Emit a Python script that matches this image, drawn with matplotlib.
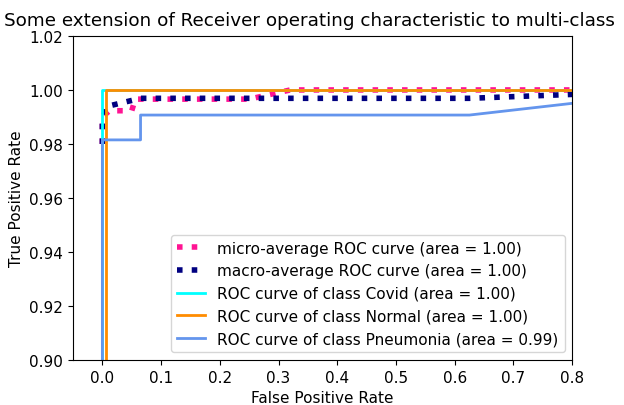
import numpy as np
import matplotlib
matplotlib.use("Agg")
import matplotlib.pyplot as plt

plt.rcParams['font.size'] = 11

# values
micro_fpr = [0.0, 0.0, 0.012, 0.05, 0.056, 0.25, 0.32, 1.0]
micro_tpr = [0.98, 0.990, 0.9923, 0.9923, 0.9966, 0.9966, 1.0, 1.0]

macro_fpr = [0.0, 0.0, 0.006, 0.065, 0.625, 1.0]
macro_tpr = [0.98, 0.9877, 0.9938, 0.9969, 0.9969, 1.0]

covid_fpr = [0.0, 0.0, 1.0]
covid_tpr = [0.0, 1.0, 1.0]

normal_fpr = [0.0, 0.006, 0.006, 1.0]
normal_tpr = [0.0, 0.0, 1.0, 1.0]

pneu_fpr = [0.0, 0.0, 0.065, 0.065, 0.625, 1.0]
pneu_tpr = [0.0, 0.9815, 0.9815, 0.9907, 0.9907, 1.0]

lw = 2
fig = plt.figure(figsize=(6.24, 4.06), dpi=100)
ax = fig.add_axes([0.117, 0.111, 0.8, 0.798])

ax.plot(micro_fpr, micro_tpr, label='micro-average ROC curve (area = 1.00)',
        color='deeppink', linestyle=':', linewidth=4)
ax.plot(macro_fpr, macro_tpr, label='macro-average ROC curve (area = 1.00)',
        color='navy', linestyle=':', linewidth=4)
ax.plot(covid_fpr, covid_tpr, color='aqua', lw=lw,
        label='ROC curve of class Covid (area = 1.00)')
ax.plot(normal_fpr, normal_tpr, color='darkorange', lw=lw,
        label='ROC curve of class Normal (area = 1.00)')
ax.plot(pneu_fpr, pneu_tpr, color='cornflowerblue', lw=lw,
        label='ROC curve of class Pneumonia (area = 0.99)')

ax.set_xlim([-0.05, 0.8])
ax.set_ylim([0.90, 1.02])
ax.set_xticks(np.arange(0, 0.81, 0.1))
ax.set_yticks(np.arange(0.90, 1.021, 0.02))
ax.set_xlabel('False Positive Rate')
ax.set_ylabel('True Positive Rate')
ax.set_title('Some extension of Receiver operating characteristic to multi-class',
             fontsize=13.2, x=0.474, pad=8)
ax.legend(loc="lower right", handlelength=1.8)

fig.savefig('out.png', dpi=100)
